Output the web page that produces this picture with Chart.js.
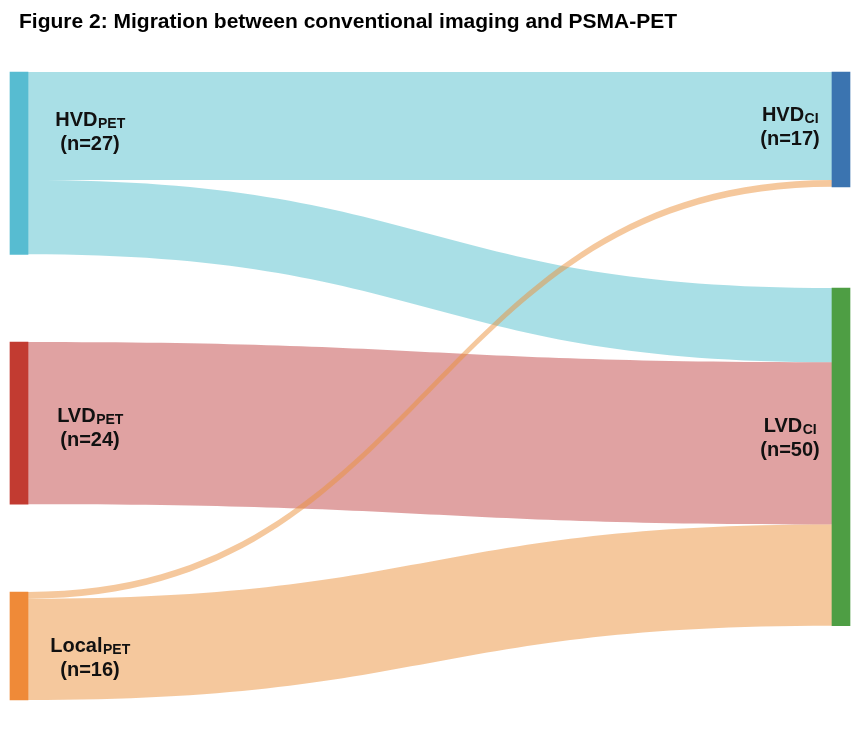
<!DOCTYPE html>
<html>
<head>
<meta charset="utf-8">
<script src="https://cdn.jsdelivr.net/npm/chart.js@4.4.1/dist/chart.umd.min.js"></script>
<style>
    body { margin: 0; background: #fff; }
    #wrap { width: 866px; height: 732px; }
</style>
</head>
<body>
<div id="wrap"><canvas id="sankey" width="866" height="732"></canvas></div>
<script>
// nodes (left = PET, right = conventional imaging)
const sourceLabels = ['HVD', 'LVD', 'Local'];
const targetLabels = ['HVD', 'LVD'];
const sourceSub = 'PET';
const targetSub = 'CI';

// flows
const flowSource = [0, 0, 1, 2, 2];
const flowTarget = [0, 1, 1, 0, 1];
const flowValues = [16, 11, 24, 1, 15];

const sourceColors = ['#57bcd1', '#c23b31', '#ef8a38'];
const targetColors = ['#3b74b0', '#4e9e44'];
const flowColors = ['rgba(84,192,206,0.5)', 'rgba(193,70,70,0.5)', 'rgba(236,145,60,0.5)'];

const FONT = '"Liberation Sans", Arial, sans-serif';
const NODE_W = 18;
const LEFT_GAP = 13;
const RIGHT_GAP = 15;
const Y_MAX = 93;
// label nudges in px (y from node middle)
const srcLabelDy = [-32, 4, 11];
const tgtLabelDy = [-3, -20];

function totals(labels, key) {
    return labels.map((_, i) => flowValues.reduce((s, v, k) => s + (key[k] === i ? v : 0), 0));
}
function stack(tot, gap) {
    let y = 0;
    return tot.map(t => { const r = [y, y + t]; y += t + gap; return r; });
}

const sourceTotals = totals(sourceLabels, flowSource);
const targetTotals = totals(targetLabels, flowTarget);
const sourceRanges = stack(sourceTotals, LEFT_GAP);
const targetRanges = stack(targetTotals, RIGHT_GAP);

// where each flow sits inside its source / target node
const flowSrcPos = [], flowTgtPos = [];
(function () {
    const sOff = sourceRanges.map(r => r[0]);
    const tOff = targetRanges.map(r => r[0]);
    const idx = flowValues.map((_, i) => i);
    idx.slice().sort((a, b) => flowSource[a] - flowSource[b] || flowTarget[a] - flowTarget[b]).forEach(i => {
        const s = flowSource[i];
        flowSrcPos[i] = [sOff[s], sOff[s] + flowValues[i]];
        sOff[s] += flowValues[i];
    });
    idx.slice().sort((a, b) => flowTarget[a] - flowTarget[b] || flowSource[a] - flowSource[b]).forEach(i => {
        const t = flowTarget[i];
        flowTgtPos[i] = [tOff[t], tOff[t] + flowValues[i]];
        tOff[t] += flowValues[i];
    });
})();

const nodeData = sourceRanges.map(r => ({ x: 0, y: r }))
    .concat(targetRanges.map(r => ({ x: 1, y: r })));
const nodeColors = sourceColors.concat(targetColors);

const flowPlugin = {
    id: 'flows',
    beforeDatasetsDraw(chart) {
        const ctx = chart.ctx;
        const xs = chart.scales.x, ys = chart.scales.y;
        const x0 = xs.getPixelForValue(0) + NODE_W / 2;
        const x1 = xs.getPixelForValue(1) - NODE_W / 2;
        const xm = (x0 + x1) / 2;
        ctx.save();
        flowValues.forEach((v, i) => {
            const s0 = ys.getPixelForValue(flowSrcPos[i][0]);
            const s1 = ys.getPixelForValue(flowSrcPos[i][1]);
            const t0 = ys.getPixelForValue(flowTgtPos[i][0]);
            const t1 = ys.getPixelForValue(flowTgtPos[i][1]);
            ctx.beginPath();
            ctx.moveTo(x0, s0);
            ctx.bezierCurveTo(xm, s0, xm, t0, x1, t0);
            ctx.lineTo(x1, t1);
            ctx.bezierCurveTo(xm, t1, xm, s1, x0, s1);
            ctx.closePath();
            ctx.fillStyle = flowColors[flowSource[i]];
            ctx.fill();
        });
        ctx.restore();
    },
    afterDatasetsDraw(chart) {
        const ctx = chart.ctx;
        const xs = chart.scales.x, ys = chart.scales.y;
        function label(main, sub, n, cx, cy) {
            ctx.font = 'bold 20px ' + FONT;
            const w1 = ctx.measureText(main).width;
            ctx.font = 'bold 14px ' + FONT;
            const w2 = ctx.measureText(sub).width;
            const left = cx - (w1 + w2) / 2;
            ctx.textAlign = 'left';
            ctx.textBaseline = 'alphabetic';
            ctx.fillStyle = '#111';
            ctx.font = 'bold 20px ' + FONT;
            ctx.fillText(main, left, cy - 5);
            ctx.font = 'bold 14px ' + FONT;
            ctx.fillText(sub, left + w1 + 0.5, cy - 3);
            ctx.font = 'bold 20px ' + FONT;
            ctx.textAlign = 'center';
            ctx.fillText('(n=' + n + ')', cx, cy + 19);
        }
        ctx.save();
        sourceLabels.forEach((l, i) => {
            const cy = ys.getPixelForValue((sourceRanges[i][0] + sourceRanges[i][1]) / 2) + srcLabelDy[i];
            label(l, sourceSub, sourceTotals[i], xs.getPixelForValue(0) + 71, cy);
        });
        targetLabels.forEach((l, i) => {
            const cy = ys.getPixelForValue((targetRanges[i][0] + targetRanges[i][1]) / 2) + tgtLabelDy[i];
            label(l, targetSub, targetTotals[i], xs.getPixelForValue(1) - 51, cy);
        });
        ctx.restore();
    }
};

new Chart(document.getElementById('sankey'), {
    type: 'bar',
    data: {
        datasets: [{
            label: 'nodes',
            data: nodeData,
            backgroundColor: nodeColors,
            borderWidth: 0,
            barThickness: NODE_W,
            grouped: false,
            clip: false
        }]
    },
    options: {
        responsive: false,
        animation: false,
        layout: { padding: { left: 19, right: 25, top: 10, bottom: 32 } },
        scales: {
            x: { type: 'linear', min: 0, max: 1, offset: false, display: false },
            y: { type: 'linear', min: 0, max: Y_MAX, reverse: true, display: false }
        },
        plugins: {
            legend: { display: false },
            tooltip: { enabled: false },
            title: {
                display: true,
                text: 'Figure 2: Migration between conventional imaging and PSMA-PET',
                align: 'start',
                color: '#000',
                font: { size: 21, weight: 'bold', family: FONT },
                padding: { top: 0, bottom: 36.8 }
            }
        }
    },
    plugins: [flowPlugin]
});
</script>
</body>
</html>
